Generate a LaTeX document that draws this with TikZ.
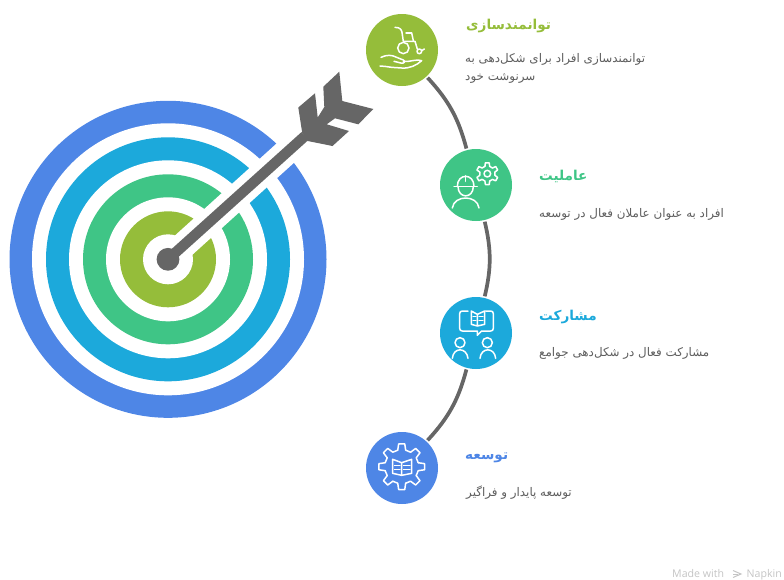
\documentclass[tikz,border=0pt]{standalone}
\usepackage{fontspec}
\TeXXeTstate=1
\newfontfamily\arabicfont[Script=Arabic]{DejaVu Sans}
\newfontfamily\latinfont{Open Sans}
\definecolor{cOlive}{HTML}{95BD3A}
\definecolor{cGreen}{HTML}{3FC586}
\definecolor{cCyan}{HTML}{1CA9DB}
\definecolor{cBlue}{HTML}{4E86E6}
\definecolor{cDark}{HTML}{666666}
\definecolor{cBody}{HTML}{5E5E5E}
\definecolor{cFoot}{HTML}{C4C4C4}
\tikzset{
  badge/.style={circle,minimum size=72pt,inner sep=0pt},
  link/.style={draw=cDark,line width=3.7pt,shorten <=1.5pt,shorten >=1.5pt},
  ttl/.style={anchor=west,inner sep=0pt,font=\arabicfont\bfseries\fontsize{13.6}{16}\selectfont},
  bodytxt/.style={anchor=west,inner sep=0pt,align=left,text=cBody,font=\arabicfont\fontsize{11.9}{18}\selectfont},
  foot/.style={anchor=base west,inner sep=0pt,text=cFoot,font=\latinfont\fontsize{10.6}{12}\selectfont},
  ico/.style={draw=white,line width=1.5pt,line cap=round,line join=round},
  zoomed/.style={x=0.33333pt,y=-0.33333pt}
}
\newcommand{\gearshape}[5]{% cx cy ro ri n
  \pgfmathsetmacro{\gstep}{360/#5}
  \foreach \gi in {1,...,#5}{
    \pgfmathsetmacro{\ga}{(\gi-1)*\gstep-90}
    \draw[ico] ($(#1,#2)+(\ga-0.30*\gstep:#4pt and -#4pt)$)
      -- ($(#1,#2)+(\ga-0.17*\gstep:#3pt and -#3pt)$)
      -- ($(#1,#2)+(\ga+0.17*\gstep:#3pt and -#3pt)$)
      -- ($(#1,#2)+(\ga+0.30*\gstep:#4pt and -#4pt)$)
      -- ($(#1,#2)+(\ga+0.70*\gstep:#4pt and -#4pt)$);
  }
}
\usetikzlibrary{calc}
\begin{document}
\begin{tikzpicture}[x=1pt,y=-1pt]
\useasboundingbox (0,0) rectangle (784,579);
\clip (0,0) rectangle (784,579);
% target
\coordinate (tc) at (168,259.3);
\coordinate (gapend) at (302,138);
\coordinate (nock) at (305,136);
\fill[cBlue] (tc) circle[radius=158.5pt];
\fill[white] (tc) circle[radius=136pt];
\fill[cCyan] (tc) circle[radius=122pt];
\fill[white] (tc) circle[radius=99pt];
\fill[cGreen] (tc) circle[radius=85pt];
\fill[white] (tc) circle[radius=62pt];
\fill[cOlive] (tc) circle[radius=48pt];
\fill[white] (tc) circle[radius=25pt];
\draw[white,line width=26pt] (tc) -- (gapend);
\draw[cDark,line width=10.5pt] (tc) -- (nock);
\fill[cDark] (tc) circle[radius=11.4pt];
\fill[cDark] (298.3,107.5) -- (315,93.3) -- (317.7,117.5) -- (324.3,107) -- (323.3,86.7) -- (339.3,71.7)
  -- (342.3,101) -- (373.3,109) -- (358.3,124.3) -- (335,118.3) -- (326.7,124.3) -- (349,131)
  -- (332.5,146) -- (307.7,141) -- (302.3,133.3) -- cycle;
% badges
\node[badge,fill=cOlive] (c1) at (402,50) {};
\node[badge,fill=cGreen] (c2) at (476,185) {};
\node[badge,fill=cCyan] (c3) at (476,333) {};
\node[badge,fill=cBlue] (c4) at (402,468) {};
\draw[link] (c1) to[bend left=14] (c2);
\draw[link] (c2) to[bend left=13.4] (c3);
\draw[link] (c3) to[bend left=14] (c4);
% texts
\node[ttl,text=cOlive] (t1) at (466,25.5) {\beginR توانمندسازی\endR};
\node[bodytxt] (b1) at (465,68.5) {\beginR توانمندسازی افراد برای شکل‌دهی به\endR\\\beginR سرنوشت خود\endR};
\node[ttl,text=cGreen] (t2) at (539,176.5) {\beginR عاملیت\endR};
\node[bodytxt] (b2) at (539,214.5) {\beginR افراد به عنوان عاملان فعال در توسعه\endR};
\node[ttl,text=cCyan] (t3) at (539,316.5) {\beginR مشارکت\endR};
\node[bodytxt] (b3) at (539,353.5) {\beginR مشارکت فعال در شکل‌دهی جوامع\endR};
\node[ttl,text=cBlue] (t4) at (465,458) {\beginR توسعه\endR};
\node[bodytxt] (b4) at (466,492.5) {\beginR توسعه پایدار و فراگیر\endR};
% footer
\node[foot] (mw) at (672,577) {Made with};
\node[foot] (nk) at (746.5,577) {Napkin};
\draw[cFoot,line width=1pt] (733,570.5) -- (741,574) -- (733,577.5);
\draw[cFoot,line width=1pt] (733,574) -- (738,574);
% icon 1
\begin{scope}[shift={(370,18)},zoomed]
\draw[ico] (100,90) circle[radius=17];
\draw[ico] (148,100) circle[radius=7];
\draw[ico] (75,28) .. controls (92,28) and (96,36) .. (97,50) -- (100,70) -- (135,70) -- (142,93);
\draw[ico] (125,45) -- (130,68);
\draw[ico] (108,45) -- (125,45);
\draw[ico] (155,98) -- (163,93);
\draw[ico] (33,118) .. controls (50,110) and (65,110) .. (80,118) -- (100,126) .. controls (108,130) and (102,138) .. (92,135) -- (72,130);
\draw[ico] (100,130) .. controls (125,132) and (140,122) .. (155,128) .. controls (140,142) and (118,152) .. (95,150) -- (65,148) .. controls (50,146) and (40,144) .. (30,144);
\end{scope}
% icon 2
\begin{scope}[shift={(444,153)},zoomed]
\draw[ico] (30,100) -- (100,100);
\draw[ico] (40,100) .. controls (40,60) and (90,60) .. (90,100);
\draw[ico] (65,68) -- (65,85);
\draw[ico] (42,100) .. controls (42,138) and (88,138) .. (88,100);
\draw[ico] (25,165) .. controls (30,125) and (100,125) .. (105,165);
\draw[ico] (130,62) circle[radius=10];
\end{scope}
\gearshape{487.3}{173.7}{11}{7.7}{6}
% icon 3
\begin{scope}[shift={(444,301)},zoomed]
\draw[ico] (72,30) -- (55,30) .. controls (50,30) and (47,33) .. (47,38) -- (47,82) .. controls (47,87) and (50,90) .. (55,90) -- (100,90) -- (100,103) -- (113,90) -- (140,90) .. controls (145,90) and (148,87) .. (148,82) -- (148,38) .. controls (148,33) and (145,30) .. (140,30) -- (125,30);
\draw[ico] (100,40) -- (82,30) -- (82,70) -- (100,75) -- (122,70) -- (122,30) -- (100,40) -- (100,75);
\draw[ico,line width=1.1pt] (87,47) -- (96,47) (87,58) -- (96,58) (105,47) -- (117,47) (105,58) -- (117,58);
\draw[ico] (48,125) circle[radius=15];
\draw[ico] (25,172) .. controls (28,138) and (68,138) .. (72,172);
\draw[ico] (130,125) circle[radius=15];
\draw[ico] (108,172) .. controls (111,138) and (152,138) .. (155,172);
\end{scope}
% icon 4
\gearshape{401.7}{466.7}{23}{17}{8}
\begin{scope}[shift={(370,436)},zoomed]
\draw[ico] (95,80) -- (68,70) -- (68,112) -- (95,118) -- (125,112) -- (125,70) -- (95,80) -- (95,118);
\draw[ico,line width=1.1pt] (73,88) -- (90,88) (73,100) -- (90,100) (100,88) -- (120,88) (100,100) -- (120,100);
\end{scope}
\end{tikzpicture}
\end{document}
